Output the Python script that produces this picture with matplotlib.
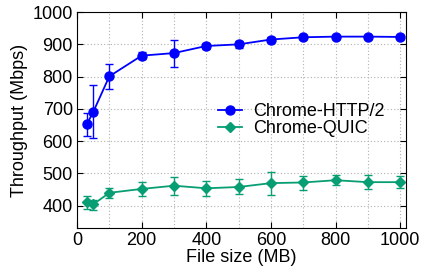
import matplotlib
matplotlib.use("Agg")
import matplotlib.pyplot as plt
from matplotlib.lines import Line2D

file_size = [30, 50, 100, 200, 300, 400, 500, 600, 700, 800, 900, 1000]

http2_mean = [652, 690, 801, 865, 873, 895, 900, 915, 922, 924, 924, 923]
http2_low  = [616, 610, 763, 855, 831, 885, 890, 908, 917, 919, 919, 918]
http2_high = [688, 773, 840, 875, 915, 905, 910, 922, 927, 929, 929, 928]

quic_mean = [413, 404, 440, 452, 462, 454, 458, 470, 472, 479, 473, 473]
quic_low  = [390, 387, 423, 429, 433, 431, 436, 433, 450, 464, 452, 454]
quic_high = [431, 417, 456, 475, 490, 478, 482, 505, 493, 494, 496, 491]

BLUE = "#0000ff"
GREEN = "#079e74"

plt.rcParams.update({
    "font.family": ["Liberation Sans", "DejaVu Sans"],
    "font.size": 13,
    "xtick.direction": "in",
    "ytick.direction": "in",
    "xtick.top": True,
    "ytick.right": True,
})

fig = plt.figure(figsize=(4.22, 2.75), dpi=100)
ax = fig.add_axes([0.1825, 0.171, 0.7795, 0.785])

def errs(mean, low, high):
    return [[m - l for m, l in zip(mean, low)], [h - m for m, h in zip(mean, high)]]

ax.errorbar(file_size, http2_mean, yerr=errs(http2_mean, http2_low, http2_high),
            color=BLUE, marker="o", markersize=6.5, linewidth=1.3,
            elinewidth=1.0, capsize=3)
ax.errorbar(file_size, quic_mean, yerr=errs(quic_mean, quic_low, quic_high),
            color=GREEN, marker="D", markersize=5, linewidth=1.3,
            elinewidth=1.0, capsize=3)

ax.set_xlim(0, 1018)
ax.set_ylim(331, 1000)
ax.set_xticks(range(0, 1001, 200))
ax.set_xticks(range(0, 1001, 100), minor=True)
ax.set_yticks(range(400, 1001, 100))
ax.tick_params(which="minor", length=0)
ax.tick_params(which="major", length=4, pad=3)
ax.grid(True, which="both", axis="x", linestyle=(0, (1, 2)), color="#b0b0b0", linewidth=0.8)
ax.grid(True, which="major", axis="y", linestyle=(0, (1, 2)), color="#b0b0b0", linewidth=0.8)
ax.set_axisbelow(True)

ax.set_xlabel("File size (MB)", labelpad=0)
ax.set_ylabel("Throughput (Mbps)", labelpad=3)

handles = [
    Line2D([], [], color=BLUE, marker="o", markersize=6.5, linewidth=1.3, label="Chrome-HTTP/2"),
    Line2D([], [], color=GREEN, marker="D", markersize=5, linewidth=1.3, label="Chrome-QUIC"),
]
ax.legend(handles=handles, loc="center left", bbox_to_anchor=(0.43, 0.5), frameon=False,
          handlelength=1.3, handletextpad=0.6, labelspacing=0.0,
          borderaxespad=0, borderpad=0)

fig.savefig("out.png", dpi=100)
